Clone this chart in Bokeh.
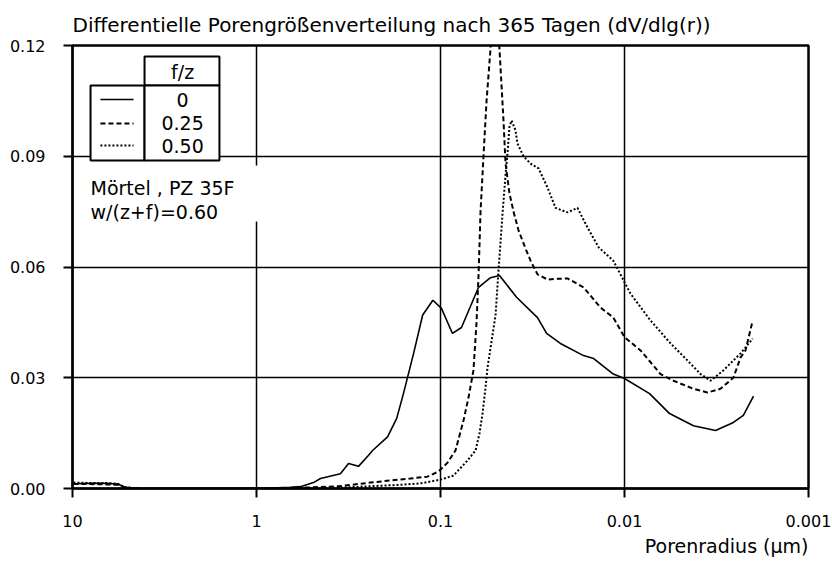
from bokeh.plotting import figure
from bokeh.models import Range1d, FixedTicker, CustomJSTickFormatter, Label, Title
from bokeh.embed import file_html
from bokeh.resources import INLINE

# ---------------- data ----------------
title_text = "Differentielle Porengrößenverteilung nach 365 Tagen (dV/dlg(r))"
x_label_text = "Porenradius (µm)"
legend_header = "f/z"
series_names = ["0", "0.25", "0.50"]
note_lines = ["Mörtel , PZ 35F", "w/(z+f)=0.60"]

x_ticks = [10, 1, 0.1, 0.01, 0.001]
x_tick_labels = ["10", "1", "0.1", "0.01", "0.001"]
y_ticks = [0.0, 0.03, 0.06, 0.09, 0.12]
y_tick_labels = ["0.00", "0.03", "0.06", "0.09", "0.12"]

# f/z = 0 (solid)
r_f0 = [9.88, 7.98, 6.62, 5.69, 5.15, 4.27, 1.0, 0.653, 0.577, 0.490, 0.449, 0.350,
        0.316, 0.279, 0.246, 0.234, 0.194, 0.173, 0.159, 0.146, 0.140, 0.125, 0.110,
        0.0988, 0.0861, 0.0769, 0.0621, 0.0535, 0.0478, 0.0386, 0.0297, 0.0265,
        0.0223, 0.0167, 0.0147, 0.0115, 0.0100, 0.00731, 0.00569, 0.00422, 0.00320,
        0.00256, 0.00226, 0.00199]
v_f0 = [0.0013, 0.0014, 0.0014, 0.0012, 0.0003, 0.0, 0.0, 0.0003, 0.0005, 0.0016,
        0.0027, 0.0040, 0.0068, 0.0060, 0.0090, 0.0103, 0.0140, 0.0190, 0.0257,
        0.0330, 0.0366, 0.0470, 0.0510, 0.0488, 0.0420, 0.0436, 0.0545, 0.0571,
        0.0577, 0.0518, 0.0463, 0.0420, 0.0393, 0.0360, 0.0352, 0.0310, 0.0298,
        0.0257, 0.0203, 0.0170, 0.0157, 0.0179, 0.0198, 0.0250]

# f/z = 0.25 (dashed)
r_f25 = [9.88, 7.98, 6.62, 5.69, 5.15, 4.27, 1.0, 0.577, 0.358, 0.240, 0.169, 0.146,
         0.118, 0.1025, 0.0916, 0.0829, 0.0750, 0.0704, 0.0662, 0.0637, 0.0621,
         0.0606, 0.0584, 0.0562, 0.0535, 0.0502, 0.0478, 0.0455, 0.0443, 0.0422,
         0.0401, 0.0377, 0.0345, 0.0324, 0.0297, 0.0262, 0.0231, 0.0204, 0.0167,
         0.0135, 0.0115, 0.0100, 0.00818, 0.00637, 0.00542, 0.00422, 0.00354,
         0.00301, 0.00256, 0.00234, 0.00220, 0.00201]
v_f25 = [0.0012, 0.0012, 0.0011, 0.0010, 0.0002, 0.0, 0.0, 0.0002, 0.0006, 0.0016,
         0.0024, 0.0027, 0.0032, 0.0046, 0.0070, 0.0103, 0.0184, 0.0247, 0.0320,
         0.0450, 0.0580, 0.0750, 0.0900, 0.1050, 0.1190, 0.1350, 0.1190, 0.1000,
         0.0880, 0.0800, 0.0750, 0.0700, 0.0650, 0.0617, 0.0580, 0.0566, 0.0568,
         0.0569, 0.0545, 0.0490, 0.0463, 0.0410, 0.0374, 0.0310, 0.0292, 0.0270,
         0.0260, 0.0270, 0.0300, 0.0355, 0.0374, 0.0455]

# f/z = 0.50 (dotted)
r_f50 = [9.88, 7.98, 6.62, 5.69, 5.15, 4.27, 1.0, 0.358, 0.246, 0.165, 0.128, 0.100,
         0.0850, 0.0713, 0.0645, 0.0614, 0.0591, 0.0569, 0.0555, 0.0502, 0.0484,
         0.0460, 0.0443, 0.0432, 0.0422, 0.0411, 0.0391, 0.0382, 0.0354, 0.0324,
         0.0293, 0.0262, 0.0237, 0.0204, 0.0180, 0.0159, 0.0138, 0.0115, 0.0101,
         0.00928, 0.00722, 0.00562, 0.00455, 0.00386, 0.00341, 0.00290, 0.00234,
         0.00201]
v_f50 = [0.0016, 0.0015, 0.0015, 0.0013, 0.0003, 0.0, 0.0, 0.0002, 0.0006, 0.0010,
         0.0014, 0.0024, 0.0035, 0.0076, 0.0103, 0.0149, 0.0203, 0.0274, 0.0328,
         0.0470, 0.0590, 0.0745, 0.0850, 0.0910, 0.0980, 0.0997, 0.0970, 0.0935,
         0.0900, 0.0880, 0.0867, 0.0815, 0.0760, 0.0748, 0.0760, 0.0707, 0.0653,
         0.0617, 0.0563, 0.0528, 0.0455, 0.0393, 0.0347, 0.0310, 0.0292, 0.0320,
         0.0366, 0.0406]

# ---------------- layout (decoration positions, data units) ----------------
FONT = "DejaVu Sans"
leg_x = [7.98, 4.06, 1.59]          # legend table column edges
leg_y = [0.1170, 0.10917, 0.08885]  # header top, header bottom, table bottom
leg_sample_x = [7.05, 4.66]
leg_row_y = [0.10537, 0.0989, 0.0929]
leg_text_x = 2.52
leg_header_y = 0.1129
note_y = [0.0815, 0.0750]
dashes = ["solid", "5 3", "2 2"]
widths = [1.6, 2.0, 2.0]

p = figure(width=832, height=562, x_axis_type="log",
           x_range=Range1d(10, 0.001), y_range=Range1d(0, 0.12),
           output_backend="svg", toolbar_location=None,
           min_border_left=72, min_border_right=24,
           min_border_top=45, min_border_bottom=74)
p.background_fill_color = "white"
p.border_fill_color = "white"
p.outline_line_color = "black"
p.outline_line_width = 2.5

p.title.text = title_text
p.title.align = "left"
p.title.text_font = FONT
p.title.text_font_size = "20px"
p.title.text_font_style = "normal"
p.title.text_color = "black"
p.title.standoff = 17

p.xaxis.ticker = FixedTicker(ticks=x_ticks)
p.yaxis.ticker = FixedTicker(ticks=y_ticks)
p.xgrid.ticker = FixedTicker(ticks=x_ticks)
p.ygrid.ticker = FixedTicker(ticks=y_ticks)
p.xaxis.formatter = CustomJSTickFormatter(args=dict(vals=x_ticks, labs=x_tick_labels), code="""
let best = 0, bd = Infinity;
for (let i = 0; i < vals.length; i++) {
  const d = Math.abs(Math.log10(tick) - Math.log10(vals[i]));
  if (d < bd) { bd = d; best = i; }
}
return labs[best];
""")
p.yaxis.formatter = CustomJSTickFormatter(args=dict(vals=y_ticks, labs=y_tick_labels), code="""
let best = 0, bd = Infinity;
for (let i = 0; i < vals.length; i++) {
  const d = Math.abs(tick - vals[i]);
  if (d < bd) { bd = d; best = i; }
}
return labs[best];
""")
for ax in (p.xaxis[0], p.yaxis[0]):
    ax.axis_line_color = "black"
    ax.axis_line_width = 2
    ax.major_tick_in = 0
    ax.major_tick_out = 9
    ax.major_tick_line_width = 2
    ax.minor_tick_line_color = None
    ax.major_label_text_font = FONT
    ax.major_label_text_font_size = "16px"
    ax.major_label_text_color = "black"
p.yaxis.major_label_standoff = 18
p.xaxis.major_label_standoff = 17

p.add_layout(Title(text=x_label_text, align="right", text_font=FONT,
                   text_font_size="19px", text_font_style="normal",
                   text_color="black", standoff=7), "below")

p.grid.grid_line_color = "black"
p.grid.grid_line_width = 1.5
p.grid.grid_line_alpha = 1.0

# white area behind the note text (interrupts grid line)
p.quad(left=[9.7], right=[0.9], bottom=[0.0723], top=[0.0875],
       fill_color="white", line_color=None)

# legend table
p.quad(left=[leg_x[0], leg_x[1], leg_x[1]], right=[leg_x[1], leg_x[2], leg_x[2]],
       top=[leg_y[1], leg_y[0], leg_y[1]], bottom=[leg_y[2], leg_y[1], leg_y[2]],
       fill_color="white", line_color="black", line_width=2)
for yy, dsh, w in zip(leg_row_y, dashes, widths):
    p.line(leg_sample_x, [yy, yy], line_color="black", line_width=w, line_dash=dsh)
p.add_layout(Label(x=leg_text_x, y=leg_header_y, text=legend_header, text_align="center",
                   text_baseline="middle", text_font=FONT, text_font_size="19px",
                   text_color="black"))
for yy, name in zip(leg_row_y, series_names):
    p.add_layout(Label(x=leg_text_x, y=yy, text=name, text_align="center",
                       text_baseline="middle", text_font=FONT, text_font_size="19px",
                       text_color="black"))

# notes
for yy, txt in zip(note_y, note_lines):
    p.add_layout(Label(x=leg_x[0], y=yy, text=txt, text_font=FONT,
                       text_font_size="19px", text_baseline="alphabetic",
                       text_color="black"))

# data curves
p.line(r_f50, v_f50, line_color="black", line_width=widths[2], line_dash=dashes[2])
p.line(r_f25, v_f25, line_color="black", line_width=widths[1], line_dash=dashes[1])
p.line(r_f0, v_f0, line_color="black", line_width=widths[0])

open("out.html", "w").write(file_html(p, INLINE))
